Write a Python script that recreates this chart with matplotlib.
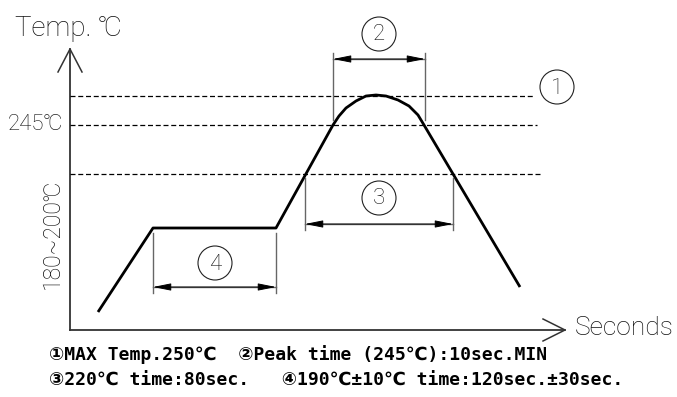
import matplotlib
matplotlib.use("Agg")
import matplotlib.pyplot as plt

# reflow profile (drawing units = pixels of the 677x397 sheet, y grows downward)
profile_x = [98, 153, 276, 333, 339, 346, 356, 366, 376, 386, 398, 409, 418, 424, 520]
profile_y = [312, 228, 228, 125, 116, 108, 101, 96, 95, 96, 100, 106, 115, 125, 287]

level_y = [96, 125, 174]          # 250C max, 245C, 220C
level_end = [535, 537, 540]

# dimension spans: (x_left, x_right, dim_y, ext_top, ext_bottom, label, circle_x, circle_y)
dims = [
    (333, 425, 59, 53, 120, "2", 379, 34),
    (305, 453, 224, 178, 230, "3", 379, 198),
    (153, 276, 287, 233, 293, "4", 215, 263),
]
max_label = ("1", 557, 87)

note1 = "①MAX Temp.250℃  ②Peak time (245℃):10sec.MIN"
note2 = "③220℃ time:80sec.   ④190℃±10℃ time:120sec.±30sec."

fig = plt.figure(figsize=(6.77, 3.97), dpi=100)
ax = fig.add_axes([0, 0, 1, 1])
ax.set_xlim(0, 677)
ax.set_ylim(397, 0)
ax.axis("off")

axis_col = "#333333"
dim_col = "#666666"
thin = dict(color="#111111", fontweight="light",
            family=["Roboto", "DejaVu Sans"])
bold = dict(color="black", fontweight="bold",
            family=["DejaVu Sans Mono", "DejaVu Sans"])

# axes with open arrowheads
ax.plot([70, 70], [330, 49], color=axis_col, lw=1.3)
ax.plot([58, 70, 82], [72, 49, 72], color=axis_col, lw=1.1)
ax.plot([70, 565], [330, 330], color=axis_col, lw=1.3)
ax.plot([543, 565, 543], [319, 330, 341], color=axis_col, lw=1.1)

# dashed temperature levels
for y, xe in zip(level_y, level_end):
    ax.plot([70, xe], [y, y], color="black", lw=0.9, ls=(0, (4, 2.2)))

# profile
ax.plot(profile_x, profile_y, color="black", lw=2.0, solid_capstyle="butt",
        solid_joinstyle="round")

# dimensions
for xl, xr, dy, et, eb, lab, cx, cy in dims:
    ax.plot([xl, xl], [et, eb], color=dim_col, lw=1.0)
    ax.plot([xr, xr], [et, eb], color=dim_col, lw=1.0)
    ax.plot([xl, xr], [dy, dy], color=dim_col, lw=1.0)
    ax.annotate("", xy=(xl, dy), xytext=(xr, dy),
                arrowprops=dict(arrowstyle="<|-|>,head_length=1.1,head_width=0.22",
                                color="black", lw=0.7, shrinkA=0, shrinkB=0))
    ax.add_patch(plt.Circle((cx, cy), 17, fill=False, color="#222222", lw=0.8))
    ax.text(cx, cy + 1, lab, ha="center", va="center", fontsize=16, **thin)

ax.add_patch(plt.Circle((max_label[1], max_label[2]), 17, fill=False,
                        color="#222222", lw=0.8))
ax.text(max_label[1], max_label[2] + 1, max_label[0], ha="center", va="center",
        fontsize=16, **thin)

ax.text(15, 28, "Temp. ℃", fontsize=20, va="center", ha="left", **thin)
ax.text(8, 125, "245℃", fontsize=16, va="center", ha="left", **thin)
ax.text(52, 234, "180~200℃", fontsize=16.5, va="center", ha="center",
        rotation=90, **thin)
ax.text(575, 328, "Seconds", fontsize=19, va="center", ha="left", **thin)

ax.text(49, 355, note1, fontsize=13, va="center", ha="left", **bold)
ax.text(49, 381, note2, fontsize=13, va="center", ha="left", **bold)

fig.savefig("out.png", dpi=100)
